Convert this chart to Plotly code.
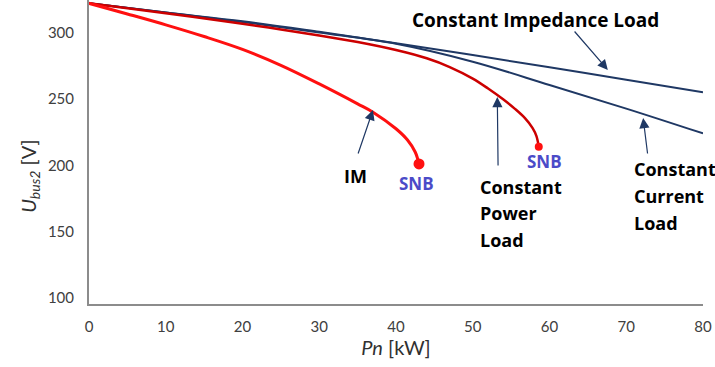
import plotly.graph_objects as go

# Data (Pn in kW, Ubus2 in V)
imp_x = [0, 10, 20, 30, 40, 50, 60, 70, 80]
imp_y = [322, 315, 308.5, 300.5, 292, 283, 273.8, 264.5, 255]

cur_x = [0, 10, 20, 30, 40, 50, 60, 70, 80]
cur_y = [322, 315, 308, 300, 291.5, 278, 260.5, 242.7, 224]

cp_x = [0, 10, 20, 25, 30, 35, 40, 44, 47, 50, 52, 54, 55.5, 56.8, 57.8, 58.3, 58.6]
cp_y = [322, 314.5, 306.6, 302.3, 297.8, 292.8, 286.8, 280.6, 274, 265.3, 257.8, 249.5, 242.5, 235.5, 228, 222, 214]

im_x = [0, 5, 10, 15, 20, 25, 30, 35, 37, 40, 41.5, 42.5, 43]
im_y = [322, 314, 305.8, 297, 287.3, 275.3, 261.3, 246.3, 240, 227.5, 219, 210, 201]

x_ticks = [0, 10, 20, 30, 40, 50, 60, 70, 80]
y_ticks = [100, 150, 200, 250, 300]

NAVY = "#1F3864"
DARKRED = "#CC0000"
RED = "#FF1010"
SNB = "#4B4BC8"
FONT = "Lato"
BFONT = "Open Sans"

fig = go.Figure()
fig.add_trace(go.Scatter(x=imp_x, y=imp_y, mode="lines", line=dict(color=NAVY, width=2, shape="spline")))
fig.add_trace(go.Scatter(x=cur_x, y=cur_y, mode="lines", line=dict(color=NAVY, width=2, shape="spline")))
fig.add_trace(go.Scatter(x=cp_x, y=cp_y, mode="lines", line=dict(color=DARKRED, width=2.5, shape="spline")))
fig.add_trace(go.Scatter(x=im_x, y=im_y, mode="lines", line=dict(color=RED, width=3, shape="spline")))
fig.add_trace(go.Scatter(x=[im_x[-1]], y=[im_y[-1]], mode="markers", marker=dict(color=RED, size=11)))
fig.add_trace(go.Scatter(x=[cp_x[-1]], y=[cp_y[-1]], mode="markers", marker=dict(color=RED, size=8)))

arrows = [
    # (head_x, head_y, tail_x, tail_y)
    (67.6, 271.8, 63.1, 301.9),
    (72.2, 235.6, 72.8, 207.7),
    (53.2, 251.4, 53.3, 198.7),
    (37.0, 241.6, 35.0, 207.7),
]
for hx, hy, tx, ty in arrows:
    fig.add_annotation(x=hx, y=hy, ax=tx, ay=ty, xref="x", yref="y", axref="x", ayref="y",
                       text="", showarrow=True, arrowhead=2, arrowsize=1.7, arrowwidth=1.2,
                       arrowcolor=NAVY)

bold = dict(family=BFONT, size=18, color="black")
texts = [
    ("<b>IM</b>", 34.7, 191.9, "center"),
    ("<b>Constant</b>", 50.7, 183.6, "left"),
    ("<b>Power</b>", 50.7, 163.7, "left"),
    ("<b>Load</b>", 50.7, 143.6, "left"),
    ("<b>Constant</b>", 70.75, 197.2, "left"),
    ("<b>Current</b>", 70.75, 176.9, "left"),
    ("<b>Load</b>", 70.75, 156.5, "left"),
]
for t, x, y, xa in texts:
    fig.add_annotation(x=x, y=y, xref="x", yref="y", text=t, showarrow=False,
                       xanchor=xa, yanchor="middle", font=bold)
fig.add_annotation(x=58.2, y=309.4, xref="x", yref="y", text="<b>Constant Impedance Load</b>",
                   showarrow=False, xanchor="center", yanchor="middle",
                   font=dict(family=BFONT, size=19, color="black"))
for x, y in [(42.7, 185.9), (59.3, 202.5)]:
    fig.add_annotation(x=x, y=y, xref="x", yref="y", text="<b>SNB</b>", showarrow=False,
                       xanchor="center", yanchor="middle",
                       font=dict(family=BFONT, size=17, color=SNB))

# y-axis title placed as a rotated annotation (reference places it below centre)
fig.add_annotation(x=-0.098, y=0.421, xref="paper", yref="paper",
                   text="<i>U<sub>bus2</sub></i> [V]", textangle=-90, showarrow=False,
                   xanchor="center", yanchor="middle",
                   font=dict(family=FONT, size=20, color="#303030"))

fig.update_layout(
    width=715, height=367,
    margin=dict(l=89, r=12, t=0, b=63),
    paper_bgcolor="white", plot_bgcolor="white",
    showlegend=False,
    font=dict(family=FONT, size=15, color="#404040"),
)
fig.update_xaxes(range=[0, 80], tickvals=x_ticks, showgrid=False, zeroline=False,
                 showline=True, linecolor="#8C8C8C", linewidth=2, ticks="",
                 ticklabelstandoff=8,
                 title=dict(text="<i>Pn</i> [kW]", font=dict(family=FONT, size=20, color="#303030"),
                            standoff=6))
fig.update_yaxes(range=[95.5, 324.5], tickvals=y_ticks, showgrid=False, zeroline=False,
                 showline=True, linecolor="#8C8C8C", linewidth=2, ticks="",
                 ticklabelstandoff=10)

fig.write_html("out.html")
